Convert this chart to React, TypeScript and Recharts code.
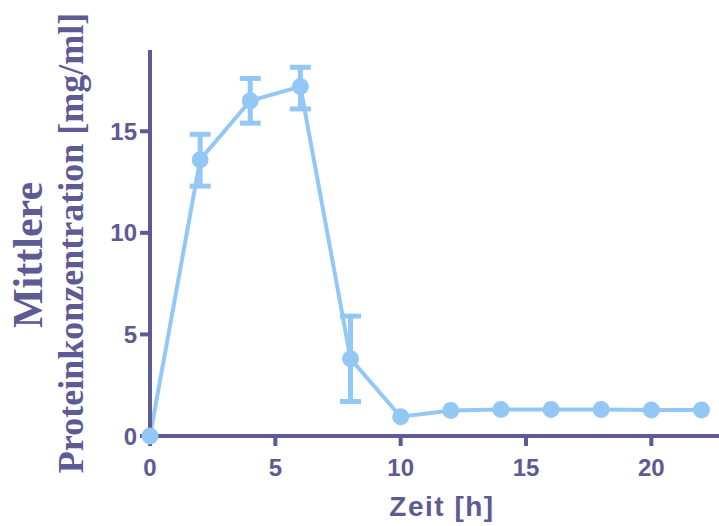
import { ErrorBar, Line, LineChart, XAxis, YAxis } from 'recharts';

const AXIS_COLOR = '#5d5a94';
const SERIES_COLOR = '#93c7f6';

// sampling times in hours
const hours = [0, 2, 4, 6, 8, 10, 12, 14, 16, 18, 20, 22];
// mean protein concentration in mg/ml
const meanConc = [0, 13.6, 16.5, 17.2, 3.8, 0.95, 1.25, 1.3, 1.3, 1.3, 1.28, 1.28];
// lower / upper deviation, null where no error bar is drawn
const errLow = [null, 1.3, 1.1, 1.1, 2.1, null, null, null, null, null, null, null];
const errHigh = [null, 1.25, 1.1, 0.95, 2.1, null, null, null, null, null, null, null];

const xTicks = [0, 5, 10, 15, 20];
const yTicks = [0, 5, 10, 15];

const data = hours.map((h, i) => ({
  h,
  conc: meanConc[i],
  err: errLow[i] == null ? undefined : [errLow[i], errHigh[i]],
}));

const SANS = '"Liberation Sans", Arial, sans-serif';
const SERIF = '"Liberation Serif", "Times New Roman", serif';

const TICK_STYLE = {
  fontSize: 24,
  fontWeight: 700,
  fontFamily: SANS,
  fill: AXIS_COLOR,
};

function YLabel() {
  return (
    <g fill={AXIS_COLOR} fontFamily={SERIF} fontWeight={700}>
      <text x={42} y={255} fontSize={42} textAnchor="middle" transform="rotate(-90 42 255)">
        Mittlere
      </text>
      <text x={83} y={243} fontSize={36} textAnchor="middle" transform="rotate(-90 83 243)">
        Proteinkonzentration [mg/ml]
      </text>
    </g>
  );
}

function XLabel() {
  return (
    <text
      x={442}
      y={516}
      fill={AXIS_COLOR}
      fontSize={28}
      fontWeight={700}
      fontFamily={SANS}
      letterSpacing={1.5}
      textAnchor="middle"
    >
      Zeit [h]
    </text>
  );
}

export default function App() {
  return (
    <div style={{ position: 'absolute', left: 0, top: 0, background: '#fff' }}>
      <LineChart width={719} height={526} data={data} margin={{ top: 50, right: 0, bottom: 0, left: 0 }}>
        <XAxis
          dataKey="h"
          type="number"
          domain={[0, 22.7]}
          ticks={xTicks}
          height={90}
          stroke={AXIS_COLOR}
          strokeWidth={4}
          tickSize={10}
          tickMargin={13}
          tick={TICK_STYLE}
          label={{ content: XLabel }}
        />
        <YAxis
          type="number"
          domain={[0, 19]}
          ticks={yTicks}
          width={150}
          stroke={AXIS_COLOR}
          strokeWidth={4}
          tickSize={10}
          tickMargin={3}
          tick={TICK_STYLE}
          label={{ content: YLabel }}
        />
        <Line
          dataKey="conc"
          stroke={SERIES_COLOR}
          strokeWidth={4}
          dot={{ r: 8.5, fill: SERIES_COLOR, stroke: SERIES_COLOR, strokeWidth: 0 }}
          isAnimationActive={false}
        >
          <ErrorBar dataKey="err" width={10.5} stroke={SERIES_COLOR} strokeWidth={5} />
        </Line>
      </LineChart>
    </div>
  );
}
